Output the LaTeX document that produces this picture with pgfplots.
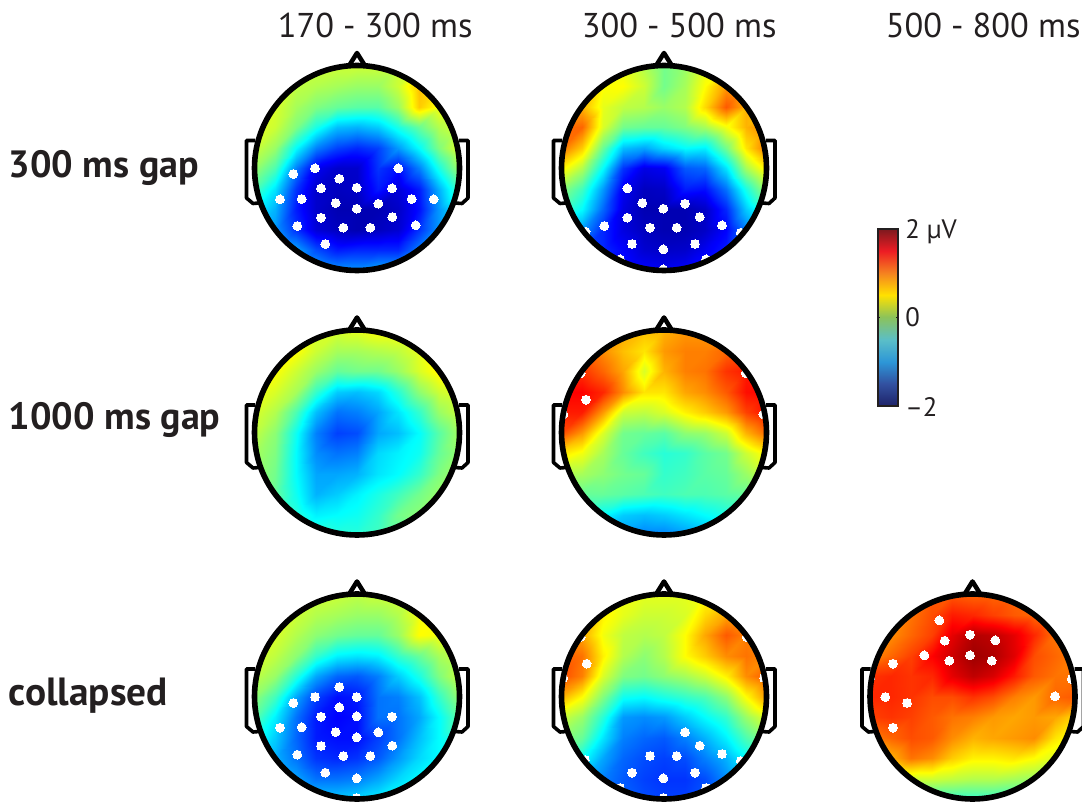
\documentclass[border=0pt]{standalone}
\usepackage{pgfplots}
\pgfplotsset{compat=1.18}
\usepackage{fontspec}
\setmainfont{PT Sans}
\definecolor{ink}{RGB}{35,31,32}
\pgfplotsset{
  colormap/jet,
  colormap={barmap}{rgb255=(30,35,105) rgb255=(50,80,160) rgb255=(45,150,215) rgb255=(90,190,200) rgb255=(140,195,90) rgb255=(255,225,0) rgb255=(245,130,32) rgb255=(237,28,36) rgb255=(125,25,30)},
}
\newcommand\topo[3]{%
  \addplot[surf,shader=interp,colormap/jet,mesh/cols=11,point meta=explicit] table[row sep=\\,header=false,
    x expr={#1+102.5*(mod(\coordindex,11)/5-1)},
    y expr={#2+102.5*(floor(\coordindex/11)/5-1)},
    meta expr=\thisrowno{0}] {#3};
}
\newcommand\elec[1]{%
  \addplot[only marks,white,mark=*,mark size=3.3pt,mark options={draw=white,fill=white,line width=0pt}] coordinates {#1};
}
\newcommand\outline[2]{%
  \fill[white,even odd rule] (axis cs:{#1-104},{#2-104}) rectangle (axis cs:{#1+104},{#2+104}) (axis cs:#1,#2) circle[radius=76.875pt];
  \draw[black,line width=4.2pt] (axis cs:#1,#2) circle[radius=76.875pt];
  \draw[black,line width=3.4pt,line join=round] (axis cs:{#1-7.5},{#2-103}) -- (axis cs:#1,{#2-115}) -- (axis cs:{#1+7.5},{#2-103});
  \draw[black,line width=2.7pt,line join=round] (axis cs:{#1-102},{#2-27.5}) -- (axis cs:{#1-110.5},{#2-27.5}) -- (axis cs:{#1-110.5},{#2+30}) -- (axis cs:{#1-104},{#2+35.5}) -- (axis cs:{#1-98},{#2+35});
  \draw[black,line width=2.7pt,line join=round] (axis cs:{#1+102},{#2-27.5}) -- (axis cs:{#1+111},{#2-27.5}) -- (axis cs:{#1+111},{#2+30}) -- (axis cs:{#1+105},{#2+35.5}) -- (axis cs:{#1+98},{#2+35});
}
\begin{document}
\begin{tikzpicture}
\path[use as bounding box,clip] (0,0) rectangle (811.5pt,602.25pt);
\begin{axis}[at={(0,0)},anchor=south west,hide axis,x=0.75pt,y=0.75pt,y dir=reverse,
  xmin=0,xmax=1082,ymin=0,ymax=803,clip=false,point meta min=-2,point meta max=2]

% 300 ms gap, 170-300
\topo{357}{168}{
.3\\.3\\.3\\.3\\.3\\.3\\.3\\.3\\.4\\.4\\.4\\
.3\\.3\\.25\\.2\\.15\\.1\\.1\\.3\\.75\\.6\\.5\\
.4\\.35\\.15\\0\\-.1\\-.15\\-.15\\.1\\.7\\.45\\.4\\
.4\\.3\\0\\-.4\\-.75\\-.8\\-.7\\-.4\\-.1\\.2\\.35\\
.3\\.1\\-.5\\-1\\-1.25\\-1.35\\-1.25\\-.9\\-.5\\0\\.4\\
.1\\-.2\\-1\\-1.55\\-1.7\\-1.7\\-1.3\\-1.45\\-1\\-.4\\.15\\
-.2\\-.6\\-1.3\\-1.7\\-1.75\\-1.72\\-1.4\\-1.65\\-1.4\\-.8\\-.2\\
-.5\\-.8\\-1.4\\-1.7\\-1.8\\-1.8\\-1.8\\-1.72\\-1.45\\-.9\\-.5\\
-.7\\-.9\\-1.3\\-1.65\\-1.75\\-1.8\\-1.75\\-1.68\\-1.3\\-.9\\-.7\\
-.7\\-.7\\-.85\\-1.2\\-1.4\\-1.35\\-1.35\\-1.35\\-1\\-.8\\-.7\\
-.7\\-.7\\-.7\\-.8\\-.9\\-.9\\-.8\\-.8\\-.7\\-.7\\-.7\\
}
\elec{(293.3,174)(315,168.3)(339.3,178.7)(321,188.3)(356.7,187.7)(392,188.3)(398.3,168.3)(280,199.3)(301.7,199)(335.7,203)(356.7,208.7)(378.3,203.7)(411.7,199)(433.7,199.3)(321,217.7)(392.3,217)(297.3,226)(343.3,227.7)(370.3,227.7)(415.7,225.3)(325.3,244)}

% 300 ms gap, 300-500
\topo{664}{168}{
.4\\.4\\.4\\.4\\.2\\-.05\\.1\\.4\\.5\\.5\\.5\\
.6\\.6\\.5\\.5\\.3\\-.05\\.15\\.5\\.9\\.8\\.7\\
1\\.8\\.4\\.25\\.2\\.1\\.2\\.65\\1.15\\.8\\.7\\
1.1\\1.1\\.35\\-.05\\-.1\\-.1\\0\\.15\\.45\\.8\\1\\
1.05\\.7\\-.1\\-.75\\-.85\\-.65\\-.5\\-.55\\-.05\\.6\\1.05\\
.55\\.2\\-.5\\-1.3\\-1.6\\-1.55\\-1.15\\-1.1\\-.6\\.15\\.6\\
.05\\-.25\\-.9\\-1.55\\-1.75\\-1.72\\-1.4\\-1.45\\-1.05\\-.4\\.15\\
-.2\\-.5\\-1.1\\-1.62\\-1.8\\-1.8\\-1.8\\-1.72\\-1.35\\-.7\\-.3\\
-.7\\-.9\\-1.35\\-1.62\\-1.75\\-1.8\\-1.8\\-1.72\\-1.5\\-1\\-.7\\
-1.2\\-1.2\\-1.35\\-1.5\\-1.68\\-1.72\\-1.7\\-1.55\\-1.4\\-1.2\\-1.2\\
-1.4\\-1.4\\-1.4\\-1.4\\-1.5\\-1.55\\-1.5\\-1.4\\-1.4\\-1.4\\-1.4\\
}
\elec{(627.3,188.3)(642.3,203)(663.3,208.7)(685,203.7)(627.3,217.7)(699.7,217)(604.3,226)(650,227.7)(676.7,227.7)(722,225.3)(632,244)(663.3,249.3)(695,244)(663.3,269.3)(620,259.3)(706,259.3)(585.7,231.7)(740.7,232.7)}

% 1000 ms gap, 170-300
\topo{357}{432.5}{
.35\\.35\\.35\\.35\\.35\\.4\\.5\\.5\\.5\\.5\\.5\\
.5\\.5\\.5\\.3\\.15\\.15\\.2\\.25\\.4\\.6\\.6\\
.55\\.5\\.3\\.1\\-.1\\-.05\\-.05\\.1\\.35\\.55\\.6\\
.45\\.35\\.15\\-.3\\-.7\\-.75\\-.65\\-.35\\.05\\.3\\.4\\
.35\\.2\\-.2\\-.75\\-1.05\\-1\\-.85\\-.6\\-.3\\.1\\.3\\
.25\\.05\\-.45\\-1\\-1.25\\-1.2\\-.85\\-.75\\-.5\\-.15\\.15\\
.15\\0\\-.5\\-.95\\-1.05\\-1\\-.65\\-.55\\-.45\\-.1\\.1\\
.1\\-.05\\-.5\\-.85\\-.85\\-.8\\-.6\\-.5\\-.3\\0\\.15\\
.1\\-.1\\-.45\\-.8\\-.7\\-.55\\-.4\\-.25\\-.05\\.1\\.15\\
-.1\\-.15\\-.35\\-.55\\-.5\\-.45\\-.3\\-.05\\.05\\.1\\.1\\
-.2\\-.2\\-.25\\-.3\\-.35\\-.35\\-.25\\-.15\\0\\.05\\.1\\
}

% 1000 ms gap, 300-500
\topo{664}{432.5}{
.85\\.85\\.85\\.85\\.75\\.8\\.9\\.9\\.9\\1\\1\\
1\\1\\.95\\.75\\.6\\.9\\1\\1\\1.1\\1.2\\1.2\\
1.3\\1.3\\1.1\\.85\\.35\\.8\\1\\1.05\\1.3\\1.4\\1.4\\
1.5\\1.5\\1.35\\.95\\.6\\.6\\.85\\.95\\1.15\\1.45\\1.5\\
1.4\\1.4\\.9\\.3\\.25\\.35\\.55\\.7\\.9\\1.25\\1.45\\
1.2\\.9\\.35\\-.05\\-.1\\-.15\\.05\\.1\\.3\\.8\\1.1\\
.6\\.45\\.15\\-.1\\-.25\\-.35\\-.3\\-.15\\-.05\\.3\\.55\\
.2\\.15\\.05\\-.05\\-.1\\-.3\\-.25\\-.15\\-.1\\.1\\.3\\
-.1\\-.1\\-.1\\-.15\\-.2\\-.25\\-.2\\-.2\\-.15\\-.1\\0\\
-.4\\-.4\\-.5\\-.7\\-.75\\-.7\\-.6\\-.5\\-.4\\-.3\\-.2\\
-.6\\-.7\\-.8\\-.9\\-1\\-1\\-.9\\-.8\\-.6\\-.5\\-.4\\
}
\elec{(586,399.7)(580.7,373.3)(745.7,373.3)(763.3,414.3)(563.3,414.3)}

% collapsed, 170-300
\topo{357}{696.5}{
.3\\.3\\.3\\.3\\.3\\.25\\.3\\.35\\.4\\.4\\.4\\
.35\\.35\\.3\\.2\\.15\\.1\\.1\\.2\\.45\\.5\\.5\\
.4\\.35\\.2\\.05\\-.05\\-.1\\-.1\\.1\\.5\\.45\\.4\\
.35\\.25\\.05\\-.3\\-.55\\-.6\\-.55\\-.3\\-.1\\.15\\.3\\
.25\\.1\\-.35\\-.85\\-1.1\\-1.15\\-1\\-.7\\-.4\\0\\.3\\
.05\\-.25\\-.85\\-1.25\\-1.45\\-1.4\\-1.05\\-1\\-.75\\-.3\\.1\\
-.15\\-.55\\-1.05\\-1.4\\-1.5\\-1.45\\-1.05\\-1.05\\-.85\\-.5\\-.1\\
-.4\\-.7\\-1.1\\-1.4\\-1.45\\-1.45\\-1.25\\-1.05\\-.75\\-.5\\-.3\\
-.6\\-.8\\-1.05\\-1.3\\-1.35\\-1.3\\-1.15\\-.9\\-.65\\-.5\\-.4\\
-.6\\-.7\\-.85\\-1.05\\-1.05\\-1\\-.85\\-.65\\-.5\\-.45\\-.4\\
-.6\\-.6\\-.65\\-.7\\-.7\\-.65\\-.55\\-.45\\-.4\\-.4\\-.4\\
}
\elec{(339.3,687)(315,697)(356.7,697)(293.3,703)(339.3,707.3)(321,716.7)(356.7,716.3)(392,716.7)(280,727.7)(301.7,727.3)(335.7,732)(356.7,737.3)(378.3,732.3)(321,746)(392.3,745.7)(297.3,754.7)(343.3,756)(370.3,756)(325.3,772.7)(356.7,778.3)(356.7,798)}

% collapsed, 300-500
\topo{664}{696.5}{
.5\\.5\\.5\\.45\\.4\\.4\\.4\\.5\\.6\\.6\\.6\\
.9\\.8\\.55\\.4\\.3\\.3\\.35\\.65\\.85\\.8\\.8\\
1\\.85\\.45\\.25\\.2\\.25\\.5\\.85\\1.15\\1\\.9\\
1.15\\1.05\\.55\\.2\\.05\\.2\\.5\\.7\\.95\\1.05\\.95\\
1.2\\1\\.35\\0\\-.05\\.05\\.15\\.3\\.55\\.95\\1.15\\
.8\\.5\\0\\-.45\\-.5\\-.4\\-.3\\-.2\\.05\\.5\\.9\\
.3\\.1\\-.35\\-.9\\-.95\\-.9\\-.7\\-.5\\-.3\\.1\\.4\\
.05\\-.1\\-.6\\-1\\-1.1\\-1.15\\-1\\-.8\\-.55\\-.2\\.05\\
-.2\\-.45\\-.85\\-1.1\\-1.2\\-1.25\\-1.2\\-1\\-.8\\-.5\\-.3\\
-.6\\-.75\\-1\\-1.15\\-1.25\\-1.3\\-1.3\\-1.2\\-.95\\-.8\\-.6\\
-.9\\-1\\-1.05\\-1.1\\-1.2\\-1.25\\-1.25\\-1.15\\-1.05\\-1\\-.9\\
}
\elec{(586.7,663.7)(685,732.3)(699.7,745.7)(722,754)(650,756)(676.7,756)(632,772.7)(695,772.7)(663.3,778.3)(663.3,798)(620,788)(706,788)(746.7,637)(580.7,637)(563.3,678)(764,678)(585,760)(740.7,761)}

% collapsed, 500-800
\topo{972.5}{696.5}{
1.2\\1.2\\1.15\\1.15\\1.15\\1.1\\1.1\\1.1\\1.05\\1\\1\\
1\\1\\1.05\\1.2\\1.4\\1.35\\1.25\\1.15\\1.1\\1\\.95\\
.85\\.95\\1.1\\1.25\\1.6\\1.8\\1.75\\1.6\\1.35\\1.05\\.95\\
.95\\1.1\\1.25\\1.5\\1.7\\1.88\\1.82\\1.62\\1.2\\1.1\\1\\
1.3\\1.35\\1.3\\1.35\\1.6\\1.75\\1.65\\1.4\\1.15\\1.05\\1.05\\
1.35\\1.35\\1.3\\1.2\\1.2\\1.3\\1.2\\1\\.9\\1.1\\1.15\\
1.25\\1.3\\1.25\\1.15\\1.05\\1\\.9\\.85\\.9\\.85\\.65\\
1\\1.1\\1.2\\1.15\\.95\\.8\\.85\\.9\\.95\\.6\\.45\\
.6\\.8\\1.05\\.95\\.7\\.55\\.55\\.6\\.5\\.35\\.3\\
.2\\.25\\.3\\.3\\.25\\.2\\.2\\.15\\.1\\.05\\.05\\
-.3\\-.3\\-.3\\-.3\\-.3\\-.3\\-.3\\-.3\\-.3\\-.3\\-.3\\
}
\elec{(939.3,620.3)(970,634.7)(944.7,640.7)(995.3,640.3)(924.3,655.3)(949.3,660.7)(970,655.3)(991.7,660.7)(893,663.7)(885.3,697)(907,703)(893,727.7)(1055,696.3)(870,678)(1071.7,679)}

% colour bar
\addplot[surf,shader=interp,colormap name=barmap,mesh/cols=2,point meta=explicit] table[row sep=\\,meta=v] {
x y v\\
878 229 2\\ 898 229 2\\
878 251.1 1.5\\ 898 251.1 1.5\\
878 273.2 1\\ 898 273.2 1\\
878 295.3 .5\\ 898 295.3 .5\\
878 317.4 0\\ 898 317.4 0\\
878 339.5 -.5\\ 898 339.5 -.5\\
878 361.6 -1\\ 898 361.6 -1\\
878 383.7 -1.5\\ 898 383.7 -1.5\\
878 405.8 -2\\ 898 405.8 -2\\
};
\end{axis}
\begin{axis}[at={(0,0)},anchor=south west,hide axis,x=0.75pt,y=0.75pt,y dir=reverse,
  xmin=0,xmax=1082,ymin=0,ymax=803,clip=false]
\outline{357}{168}
\outline{664}{168}
\outline{357}{432.5}
\outline{664}{432.5}
\outline{357}{696.5}
\outline{664}{696.5}
\outline{972.5}{696.5}
\draw[ink,line width=1.1pt] (axis cs:878,229) rectangle (axis cs:898,405.8);
\draw[ink,line width=.7pt] (axis cs:878,317.4) -- (axis cs:880,317.4) (axis cs:896,317.4) -- (axis cs:898,317.4);
\tikzset{lab/.style={anchor=base west,inner sep=0pt,text=ink}}
\node[lab,font=\fontsize{25.8}{30}\selectfont] at (axis cs:277.5,37) {170 - 300 ms};
\node[lab,font=\fontsize{25.8}{30}\selectfont] at (axis cs:581.5,37) {300 - 500 ms};
\node[lab,font=\fontsize{25.8}{30}\selectfont] at (axis cs:885.5,37) {500 - 800 ms};
\node[lab,font=\fontsize{28.5}{32}\selectfont\bfseries] at (axis cs:8.5,177) {300 ms gap};
\node[lab,font=\fontsize{28.5}{32}\selectfont\bfseries] at (axis cs:8.5,429) {1000 ms gap};
\node[lab,font=\fontsize{29.5}{32}\selectfont\bfseries] at (axis cs:8.5,705) {collapsed};
\node[lab,font=\fontsize{20}{24}\selectfont] at (axis cs:905,238) {2 µV};
\node[lab,font=\fontsize{20}{24}\selectfont] at (axis cs:905,326.5) {0};
\node[lab,font=\fontsize{20}{24}\selectfont] at (axis cs:905,416) {–2};
\end{axis}
\end{tikzpicture}
\end{document}
